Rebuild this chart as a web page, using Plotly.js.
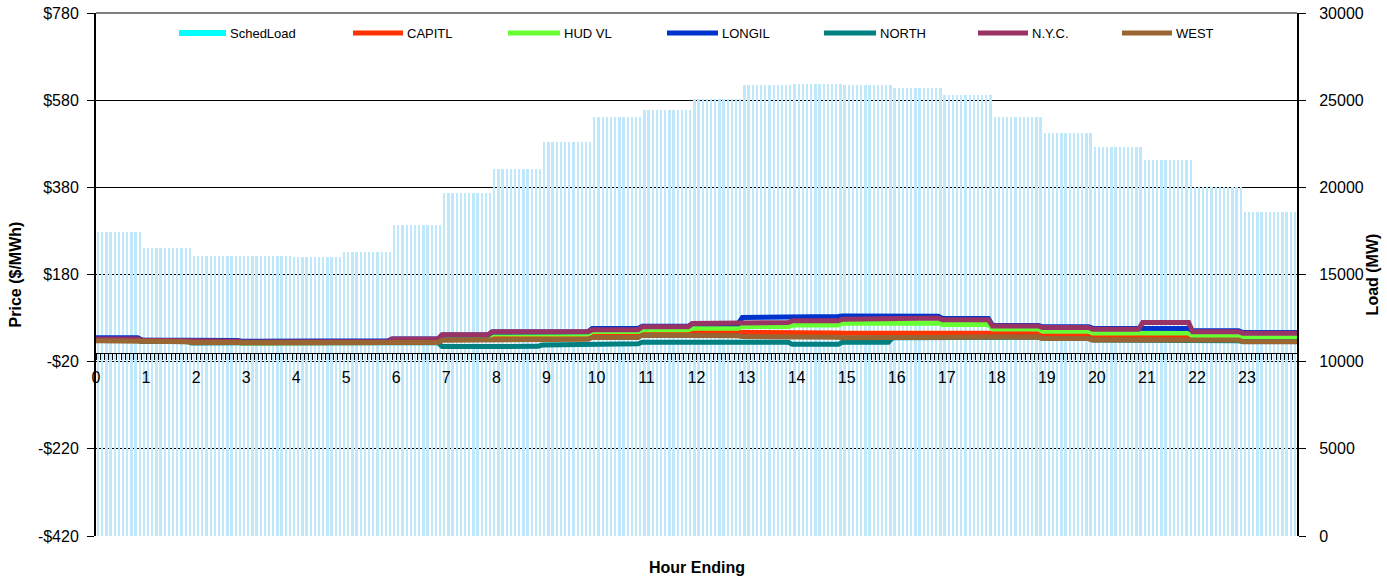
<!DOCTYPE html>
<html><head><meta charset="utf-8">
<script src="https://cdn.plot.ly/plotly-3.0.1.min.js"></script>
<style>html,body{margin:0;padding:0;background:#fff}#chart{width:1387px;height:579px}</style>
</head><body><div id="chart"></div>
<script>
// ---------------- data ----------------
const hourLabels = ["0","1","2","3","4","5","6","7","8","9","10","11","12","13","14","15","16","17","18","19","20","21","22","23"];
const intervalsPerHour = 12;   // 5-minute intervals
// scheduled load (MW) per hour
const schedLoad = [17450,16520,16060,16060,16000,16290,17840,19680,21050,22600,24030,24440,25070,25870,25930,25870,25700,25300,24030,23120,22320,21570,20020,18590];
// zonal prices ($/MWh) per hour
const capitl = [30,27,25,23,25,24,27,31,35,36,44.6,46,47.6,48,45.8,45,45,43.5,45,41,38,37,33,30];
const hudVl  = [30,27,25,23,25,24,28,35,43.5,43.5,49,53,56.5,60.7,64,68,69,65,55,50,45.8,45.8,39,34.6];
const longil = [35,30,28.5,27,28.5,28,32,41,48,48.5,56,61,67,81.3,83.6,85,84,79,63,60,56.8,56,50.8,47];
const north  = [29,26,23,22.5,23,22.5,23.5,14.8,15.2,18.2,21,24.7,24.7,24.7,19.7,24.7,35,36,36,33,30,30,28,26];
const nyc    = [32,29,27,25,27,26,32,41.6,48.5,49,53,60,67.5,69.9,73.8,77.5,80,76,62,58.4,54.5,70,48.8,45];
const west   = [28,25.8,24,22.4,24,22.8,24,29.3,30.8,31.5,35.4,40.8,39.4,37.7,36,34.7,37,37,36.5,33,30,30.4,30,25.5];
const seriesNames = ["SchedLoad","CAPITL","HUD VL","LONGIL","NORTH","N.Y.C.","WEST"];
const priceTicks = [-420,-220,-20,180,380,580,780];
const priceTickText = ["-$420","-$220","-$20","$180","$380","$580","$780"];
const loadTicks = [0,5000,10000,15000,20000,25000,30000];
const loadTickText = ["0","5000","10000","15000","20000","25000","30000"];

// ---------------- styles ----------------
const FONT = "Liberation Sans, Arial, Helvetica, sans-serif";
const colors = {"SchedLoad":"#00FFFF","CAPITL":"#FF3300","HUD VL":"#66FF33","LONGIL":"#0033CC","NORTH":"#008080","N.Y.C.":"#993366","WEST":"#996633"};
const barColor = "#bfe8fb";
const priceRange = [-420, 780];
const loadRange = [0, 30000];
// plot area in pixels
const PL = 96, PR = 1297, PT = 13, PB = 536;
const px2x = p => (p - PL) / (PR - PL);
const px2y = p => (PB - p) / (PB - PT);

// ---------------- traces ----------------
const nSlots = hourLabels.length * intervalsPerHour;
const barX = [], barY = [];
for (let i = 0; i < nSlots; i++) {
  barX.push((i + 0.5) / intervalsPerHour);
  const h = Math.min(hourLabels.length - 1, Math.floor((i + 1) / intervalsPerHour));
  barY.push(schedLoad[h]);
}
const traces = [{
  type: "bar", name: "SchedLoad", x: barX, y: barY, xaxis: "x", yaxis: "y",
  width: 0.55 / intervalsPerHour, marker: {color: barColor, line: {width: 0}},
  showlegend: false, hoverinfo: "skip"
}];

function stepLine(vals) {
  const xs = [], ys = [];
  const n = vals.length;
  for (let h = 0; h < n; h++) {
    const s = h === 0 ? 0 : h - 1 / intervalsPerHour;
    const e = h === n - 1 ? n : h + (intervalsPerHour - 2) / intervalsPerHour;
    xs.push(s, e); ys.push(vals[h], vals[h]);
  }
  return {xs, ys};
}
const zones = [["CAPITL", capitl], ["HUD VL", hudVl], ["LONGIL", longil], ["NORTH", north], ["N.Y.C.", nyc], ["WEST", west]];
zones.forEach(([name, vals]) => {
  const s = stepLine(vals);
  traces.push({type: "scatter", mode: "lines", name, x: s.xs, y: s.ys, xaxis: "x", yaxis: "y2",
    line: {color: colors[name], width: 5}, showlegend: false});
});

// ---------------- x ticks (every 5 minutes, label every hour) ----------------
const xTickVals = [], xTickText = [];
for (let i = 0; i <= nSlots; i++) {
  xTickVals.push(i / intervalsPerHour);
  xTickText.push(i % intervalsPerHour === 0 && i < nSlots ? hourLabels[i / intervalsPerHour] : "");
}

// ---------------- custom legend ----------------
const legendSym = [[179, 226], [353, 403], [508, 560], [667, 718], [824, 876], [978, 1028], [1122, 1172]];
const legY = 33;
const shapes = [], annotations = [];
seriesNames.forEach((nm, k) => {
  const [a, b] = legendSym[k];
  if (k === 0) {
    shapes.push({type: "rect", xref: "paper", yref: "paper", x0: px2x(a), x1: px2x(b), y0: px2y(legY + 3), y1: px2y(legY - 3),
      fillcolor: colors[nm], line: {width: 0}});
  } else {
    shapes.push({type: "line", xref: "paper", yref: "paper", x0: px2x(a), x1: px2x(b), y0: px2y(legY), y1: px2y(legY),
      line: {color: colors[nm], width: 5}});
  }
  annotations.push({xref: "paper", yref: "paper", x: px2x(b + 2), y: px2y(legY), xanchor: "left", yanchor: "middle",
    text: nm, showarrow: false, font: {family: FONT, size: 13, color: "#000"}});
});
// top border
shapes.push({type: "line", xref: "paper", yref: "paper", x0: 0, x1: 1, y0: 1, y1: 1, line: {color: "#808080", width: 2}});
annotations.push({xref: "paper", yref: "paper", x: 0.5, y: px2y(567), xanchor: "center", yanchor: "middle",
  text: "<b>Hour Ending</b>", showarrow: false, font: {family: FONT, size: 16, color: "#000"}});

const layout = {
  width: 1387, height: 579,
  margin: {l: PL, r: 1387 - PR, t: PT, b: 579 - PB, pad: 0},
  paper_bgcolor: "#fff", plot_bgcolor: "#fff",
  font: {family: FONT, size: 16, color: "#000"},
  showlegend: false,
  bargap: 0,
  xaxis: {
    range: [0, hourLabels.length], anchor: "free",
    position: (0 - priceRange[0]) / (priceRange[1] - priceRange[0]),
    tickmode: "array", tickvals: xTickVals, ticktext: xTickText,
    ticks: "outside", ticklen: 6, tickwidth: 1, tickcolor: "#000",
    ticklabelstandoff: 4,
    showline: true, linecolor: "#000", linewidth: 1,
    showgrid: false, zeroline: false, tickfont: {family: FONT, size: 16, color: "#000"}
  },
  yaxis: {
    range: loadRange, side: "right", tickmode: "array", tickvals: loadTicks, ticktext: loadTickText,
    ticks: "outside", ticklen: 7, tickcolor: "#000", tickwidth: 1,
    ticklabelstandoff: 10,
    showline: true, linecolor: "#000", linewidth: 2,
    showgrid: true, gridcolor: "#000", gridwidth: 1, zeroline: false,
    tickfont: {family: FONT, size: 16, color: "#000"},
    title: {text: "Load (MW)", font: {family: FONT, size: 16, weight: "bold", color: "#000"}, standoff: 2}
  },
  yaxis2: {
    range: priceRange, overlaying: "y", side: "left", tickmode: "array",
    tickvals: priceTicks, ticktext: priceTickText,
    ticks: "outside", ticklen: 7, tickcolor: "#000", tickwidth: 1,
    ticklabelstandoff: 5,
    showline: true, linecolor: "#000", linewidth: 2,
    showgrid: false, zeroline: false,
    tickfont: {family: FONT, size: 16, color: "#000"},
    title: {text: "Price ($/MWh)", font: {family: FONT, size: 16, weight: "bold", color: "#000"}, standoff: 12}
  },
  shapes, annotations
};
Plotly.newPlot("chart", traces, layout, {displayModeBar: false, staticPlot: true});
</script></body></html>
